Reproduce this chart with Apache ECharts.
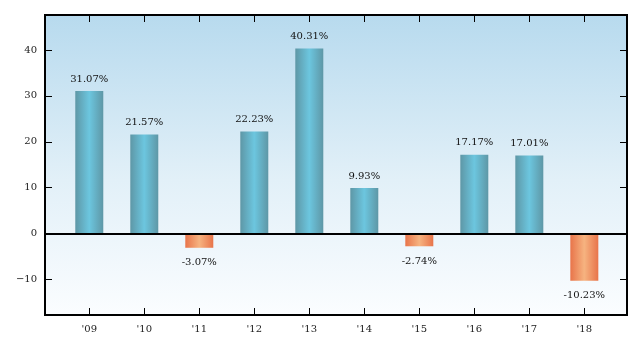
<!DOCTYPE html>
<html>
<head>
<meta charset="utf-8">
<script src="https://cdn.jsdelivr.net/npm/echarts@6/dist/echarts.min.js"></script>
<style>
  html, body { margin: 0; padding: 0; background: #ffffff; }
  #chart { width: 641px; height: 347px; }
</style>
</head>
<body>
<div id="chart"></div>
<script>
// Annual returns, in percent
const years = ["'09", "'10", "'11", "'12", "'13", "'14", "'15", "'16", "'17", "'18"];
const returns = [31.07, 21.57, -3.07, 22.23, 40.31, 9.93, -2.74, 17.17, 17.01, -10.23];
const yTicks = [-10, 0, 10, 20, 30, 40];

const FONT = '"DejaVu Serif", serif';
const TICK_LEN = 7;
const chart = echarts.init(document.getElementById('chart'), null, { renderer: 'canvas' });

const xPositions = years.map((_, i) => i);

function barGradient(v) {
  const pos = v >= 0;
  const edge = pos ? '#5e97a6' : '#e8744a';
  const mid = pos ? '#6cc6df' : '#f6b380';
  return new echarts.graphic.LinearGradient(0, 0, 1, 0, [
    { offset: 0, color: edge },
    { offset: 0.5, color: mid },
    { offset: 1, color: edge }
  ]);
}

const xRange = { min: -0.805, max: 9.776 };
const yRange = { min: -17.7, max: 47.6 };

const tickStyle = { color: '#000', width: 1 };
const xBase = {
  type: 'value', min: xRange.min, max: xRange.max,
  splitLine: { show: false },
  axisLine: { show: false, onZero: false }
};
const yBase = {
  type: 'value', min: yRange.min, max: yRange.max,
  splitLine: { show: false },
  axisLine: { show: false, onZero: false }
};

chart.setOption({
  animation: false,
  grid: {
    left: 45, right: 14, top: 15, bottom: 32,
    show: true,
    borderColor: '#000000',
    borderWidth: 2,
    backgroundColor: new echarts.graphic.LinearGradient(0, 0, 0, 1, [
      { offset: 0, color: '#b7daee' },
      { offset: 0.55, color: '#e2f0f8' },
      { offset: 1, color: '#fbfdff' }
    ])
  },
  xAxis: [
    Object.assign({}, xBase, {
      position: 'bottom',
      axisTick: { show: true, inside: true, length: TICK_LEN, customValues: xPositions, lineStyle: tickStyle },
      axisLabel: {
        show: true, customValues: xPositions, margin: 9,
        formatter: v => years[Math.round(v)],
        fontFamily: FONT, fontSize: 10, color: '#222'
      }
    }),
    Object.assign({}, xBase, {
      position: 'top',
      axisTick: { show: true, inside: true, length: TICK_LEN, customValues: xPositions, lineStyle: tickStyle },
      axisLabel: { show: false }
    })
  ],
  yAxis: [
    Object.assign({}, yBase, {
      position: 'left',
      axisTick: { show: true, inside: true, length: TICK_LEN, customValues: yTicks, lineStyle: tickStyle },
      axisLabel: {
        show: true, customValues: yTicks, margin: 8,
        formatter: v => (v < 0 ? '\u2212' + Math.abs(v) : String(v)),
        fontFamily: FONT, fontSize: 10, color: '#222'
      }
    }),
    Object.assign({}, yBase, {
      position: 'right',
      axisTick: { show: true, inside: true, length: TICK_LEN, customValues: yTicks, lineStyle: tickStyle },
      axisLabel: { show: false }
    })
  ],
  series: [{
    type: 'bar',
    xAxisIndex: 0,
    yAxisIndex: 0,
    barWidth: 28,
    data: returns.map((v, i) => ({
      value: [i, v],
      itemStyle: { color: barGradient(v) },
      label: {
        show: true,
        position: v >= 0 ? 'top' : 'bottom',
        distance: v >= 0 ? 7 : 10,
        formatter: v.toFixed(2) + '%',
        fontFamily: FONT, fontSize: 10, color: '#111'
      }
    })),
    markLine: {
      silent: true,
      symbol: 'none',
      label: { show: false },
      lineStyle: { color: '#000000', width: 2, type: 'solid' },
      data: [{ yAxis: 0 }]
    }
  }]
});
</script>
</body>
</html>
